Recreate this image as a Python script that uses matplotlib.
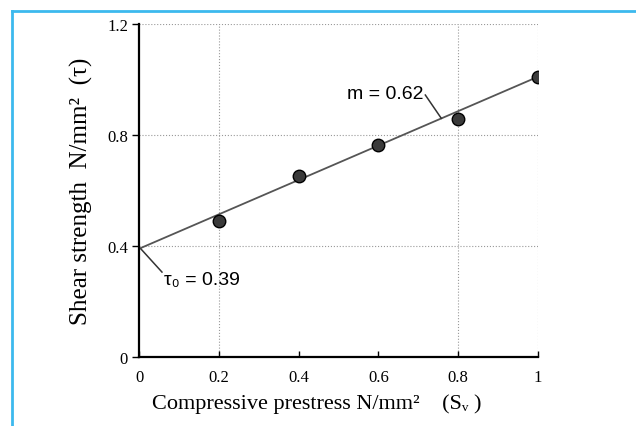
import numpy as np
import matplotlib.pyplot as plt
from matplotlib.lines import Line2D

# data
prestress = [0.2, 0.4, 0.6, 0.8, 1.0]
shear = [0.49, 0.652, 0.764, 0.858, 1.009]
tau0 = 0.39
slope = 0.62
x_ticks = [0, 0.2, 0.4, 0.6, 0.8, 1]
x_labels = ["0", "0.2", "0.4", "0.6", "0.8", "1"]
y_ticks = [0, 0.4, 0.8, 1.2]
y_labels = ["0", "0.4", "0.8", "1.2"]
grid_x = [0.2, 0.8, 1.0]
grid_y = [0.4, 0.8, 1.2]

serif = ['Liberation Serif', 'DejaVu Serif']
narrow = ['Liberation Sans Narrow', 'Liberation Sans', 'DejaVu Sans']

fig = plt.figure(figsize=(6.36, 4.27), dpi=100)
ax = fig.add_axes([0.2186, 0.1616, 0.6274, 0.7799])

# blue frame around the picture (left and top only)
fig.add_artist(Line2D([12/636, 12/636], [0, 1 - 12/427], transform=fig.transFigure,
                      color='#3cb9ee', lw=2))
fig.add_artist(Line2D([12/636, 1], [1 - 12/427, 1 - 12/427], transform=fig.transFigure,
                      color='#3cb9ee', lw=2))

for gx in grid_x:
    ax.axvline(gx, color='#999999', ls=':', lw=0.8, zorder=1)
for gy in grid_y:
    ax.axhline(gy, color='#999999', ls=':', lw=0.8, zorder=1)

xs = np.array([0, 1.0])
ax.plot(xs, tau0 + slope * xs, color='#555555', lw=1.3, zorder=2)
ax.plot(prestress, shear, 'o', ms=9, mfc='#3a3a3a', mec='black', mew=1.0, zorder=3)

# annotations with leader lines
ax.plot([0.7175, 0.7575], [0.944, 0.860], color='#333333', lw=1.1)
ax.text(0.712, 0.948, "m = 0.62", ha='right', va='center', fontsize=14, family=narrow)
ax.plot([0.005, 0.0575], [0.389, 0.306], color='#333333', lw=1.1)
ax.text(0.063, 0.281, "τ₀ = 0.39", ha='left', va='center', fontsize=14, family=narrow)

ax.set_xlim(0, 1)
ax.set_ylim(0, 1.2)
ax.set_xticks(x_ticks)
ax.set_xticklabels(x_labels, family=serif, fontsize=12)
ax.set_yticks(y_ticks)
ax.set_yticklabels(y_labels, family=serif, fontsize=12)
ax.tick_params(axis='x', direction='in', length=4, width=1, pad=9)
ax.tick_params(axis='y', direction='out', length=5, width=1, pad=3)

for s in ['top', 'right']:
    ax.spines[s].set_visible(False)
for s in ['left', 'bottom']:
    ax.spines[s].set_linewidth(1.6)

ax.set_xlabel("Compressive prestress N/mm²    (Sᵥ )", family=serif, fontsize=16, ha='left')
ax.xaxis.set_label_coords(0.0325, -0.108)
ax.set_ylabel("Shear strength  N/mm²  (τ)", family=serif, fontsize=18, labelpad=10)

fig.savefig("out.png", dpi=100)
